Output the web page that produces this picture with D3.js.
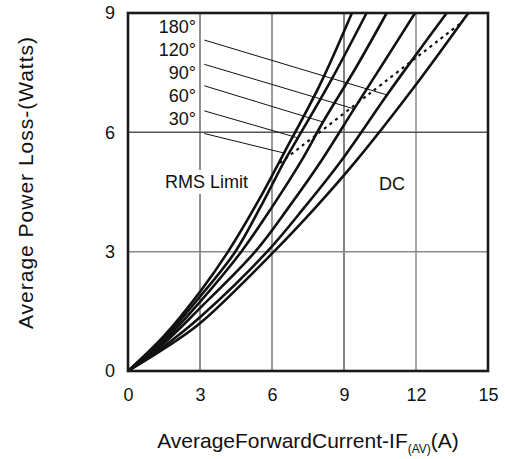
<!DOCTYPE html>
<html>
<head>
<meta charset="utf-8">
<script src="https://cdn.jsdelivr.net/npm/d3@7"></script>
<style>
  body { margin: 0; background: #fff; }
  text { font-family: "Liberation Sans", Arial, sans-serif; fill: #111; }
</style>
</head>
<body>
<div id="chart"></div>
<script>
var margin = {left: 128, right: 17, top: 13, bottom: 88};
var width = 505 - margin.left - margin.right;
var height = 459 - margin.top - margin.bottom;

// tick values
var xTicks = [0, 3, 6, 9, 12, 15];
var yTicks = [0, 3, 6, 9];

// power loss curves, [current A, power W]
var curve30  = [[0,0],[1.5,0.88],[3,1.99],[4.17,3],[5.5,4.35],[6.5,5.48],[8,7.2],[9.33,9]];
var curve60  = [[0,0],[1.5,0.82],[3,1.87],[4.47,3],[5.5,4.1],[6.54,5.3],[7.08,5.86],[8.5,7.35],[9.94,9]];
var curve90  = [[0,0],[1.5,0.76],[3,1.74],[4.72,3],[6,4.12],[7.24,5.3],[8.125,6.26],[9.5,7.63],[10.78,9]];
var curve120 = [[0,0],[1.5,0.7],[3,1.58],[5.3,3],[6.7,4.12],[8.07,5.3],[9.42,6.59],[10.7,7.8],[11.96,9]];
var curve180 = [[0,0],[1.5,0.62],[3,1.35],[5.8,3],[7.4,4.15],[8.9,5.3],[10.79,6.94],[12,7.95],[13.28,9]];
var curveDC  = [[0,0],[1.5,0.56],[3,1.2],[6.08,3],[7.8,4.1],[9.53,5.3],[11.9,7.12],[14.18,9]];

// dotted RMS limit line
var rmsLimit = [[6.33,5.23],[10.1,6.99],[13.9,8.76]];

// conduction angle labels and their leader lines
var angleLabels = ["180°", "120°", "90°", "60°", "30°"];
var labelY      = [8.66, 8.07, 7.5, 6.91, 6.35];
var leaderFromY = [8.32, 7.71, 7.17, 6.54, 5.97];
var leaderTo    = [[10.79,6.94],[9.42,6.59],[8.125,6.26],[7.08,5.86],[6.5,5.48]];

var x = d3.scaleLinear().domain([0, 15]).range([0, width]);
var y = d3.scaleLinear().domain([0, 9]).range([height, 0]);

var svg = d3.select("#chart").append("svg")
    .attr("width", 505)
    .attr("height", 459);

var chartGroup = svg.append("g")
    .attr("transform", "translate(" + margin.left + "," + margin.top + ")");

// grid
var xGridStyle = {3: ["#222", 1], 6: ["#7a7a7a", 1.5], 9: ["#333", 1.2], 12: ["#8a8a8a", 1.5]};
var yGridStyle = {3: ["#8a8a8a", 1.5], 6: ["#555", 1.5]};

chartGroup.selectAll(".vgrid")
    .data(xTicks.filter(function(d) { return d > 0 && d < 15; }))
    .enter().append("line")
    .attr("x1", function(d) { return x(d); })
    .attr("x2", function(d) { return x(d); })
    .attr("y1", 0)
    .attr("y2", height)
    .attr("stroke", function(d) { return xGridStyle[d][0]; })
    .attr("stroke-width", function(d) { return xGridStyle[d][1]; });

chartGroup.selectAll(".hgrid")
    .data(yTicks.filter(function(d) { return d > 0 && d < 9; }))
    .enter().append("line")
    .attr("x1", 0)
    .attr("x2", width)
    .attr("y1", function(d) { return y(d); })
    .attr("y2", function(d) { return y(d); })
    .attr("stroke", function(d) { return yGridStyle[d][0]; })
    .attr("stroke-width", function(d) { return yGridStyle[d][1]; });

// RMS Limit label (white box breaks the grid line)
var rmsText = chartGroup.append("text")
    .attr("x", x(3.27))
    .attr("y", y(4.6))
    .attr("text-anchor", "middle")
    .style("font-size", "18px")
    .text("RMS Limit");
var bb = rmsText.node().getBBox();
chartGroup.insert("rect", "text")
    .attr("x", bb.x - 1).attr("y", bb.y - 2)
    .attr("width", bb.width + 2).attr("height", bb.height + 4)
    .attr("fill", "#fff");

chartGroup.append("text")
    .attr("x", x(11))
    .attr("y", y(4.72))
    .attr("dy", "0.35em")
    .attr("text-anchor", "middle")
    .style("font-size", "18px")
    .text("DC");

// leaders
chartGroup.selectAll(".leader")
    .data(angleLabels)
    .enter().append("line")
    .attr("x1", x(3.18))
    .attr("y1", function(d, i) { return y(leaderFromY[i]); })
    .attr("x2", function(d, i) { return x(leaderTo[i][0]); })
    .attr("y2", function(d, i) { return y(leaderTo[i][1]); })
    .attr("stroke", "#111")
    .attr("stroke-width", 1);

chartGroup.selectAll(".angle")
    .data(angleLabels)
    .enter().append("text")
    .attr("x", x(2.83))
    .attr("y", function(d, i) { return y(labelY[i]); })
    .attr("dy", "0.35em")
    .attr("text-anchor", "end")
    .style("font-size", "18px")
    .text(function(d) { return d; });

// curves
var line = d3.line()
    .x(function(d) { return x(d[0]); })
    .y(function(d) { return y(d[1]); })
    .curve(d3.curveCatmullRom);

chartGroup.append("path")
    .attr("d", line(rmsLimit))
    .attr("fill", "none")
    .attr("stroke", "#111")
    .attr("stroke-width", 2.2)
    .attr("stroke-dasharray", "3,4");

[curve30, curve60, curve90, curve120, curve180, curveDC].forEach(function(c) {
    chartGroup.append("path")
        .attr("d", line(c))
        .attr("fill", "none")
        .attr("stroke", "#111")
        .attr("stroke-width", 2.6);
});

// frame
chartGroup.append("rect")
    .attr("width", width)
    .attr("height", height)
    .attr("fill", "none")
    .attr("stroke", "#1a1a1a")
    .attr("stroke-width", 2.6);

// axes
var xAxis = d3.axisBottom(x).tickValues(xTicks).tickSize(0).tickPadding(17);
var yAxis = d3.axisLeft(y).tickValues(yTicks).tickSize(0).tickPadding(13);

var gx = chartGroup.append("g")
    .attr("transform", "translate(0," + height + ")")
    .call(xAxis);
var gy = chartGroup.append("g").call(yAxis);
[gx, gy].forEach(function(g) {
    g.select(".domain").remove();
    g.selectAll("text").style("font-size", "18px")
        .style("font-family", "'Liberation Sans', Arial, sans-serif").attr("fill", "#111");
});

// axis titles
var xTitle = svg.append("text")
    .attr("x", 308)
    .attr("y", 448)
    .attr("text-anchor", "middle")
    .style("font-size", "21px");
xTitle.append("tspan").text("AverageForwardCurrent-IF");
xTitle.append("tspan").attr("dy", 5).style("font-size", "12px").text("(AV)");
xTitle.append("tspan").attr("dy", -5).text("(A)");

svg.append("text")
    .attr("transform", "translate(33,183) rotate(-90)")
    .attr("text-anchor", "middle")
    .attr("textLength", 292)
    .attr("lengthAdjust", "spacing")
    .style("font-size", "21px")
    .text("Average Power Loss-(Watts)");
</script>
</body>
</html>
